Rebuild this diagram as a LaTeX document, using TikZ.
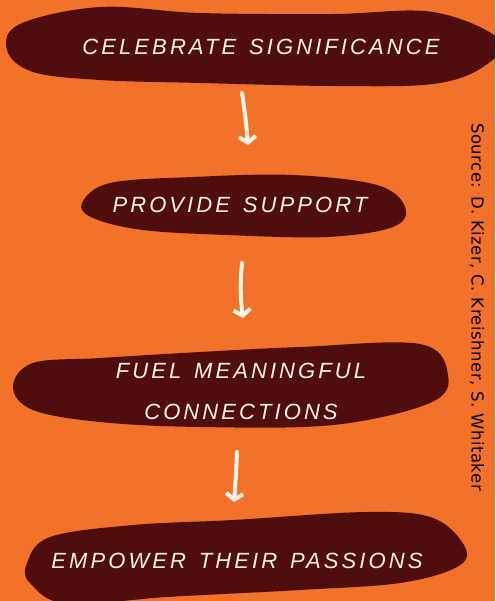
\documentclass[tikz,border=0pt]{standalone}
\usepackage{fontspec}
\usepackage{tikz}
\usetikzlibrary{arrows.meta}
\newfontfamily\stepfont[LetterSpace=14, WordSpace=1.4]{Liberation Sans}
\newfontfamily\sourcefont[LetterSpace=3]{DejaVu Sans}
\definecolor{bgorange}{RGB}{243,114,41}
\definecolor{blobred}{RGB}{80,13,14}
\definecolor{chalk}{RGB}{250,244,234}
\newcommand{\stepblob}[1] {\fill [blobred] plot [smooth cycle, tension=0.6] coordinates {#1};}
\newcommand{\steparrow}[3] {\draw [steplink] (#1) to[bend left=#3] (#2);}
\tikzset{
  steptext/.style={text=chalk, font=\stepfont\itshape\fontsize{22}{41}\selectfont, align=center, inner sep=0pt},
  steplink/.style={chalk, line width=4pt, line cap=round, -{Straight Barb[length=6pt, width=17pt, line width=4pt]}}
}
\begin{document}
\begin{tikzpicture}[x=1pt, y=-1pt]
\useasboundingbox (0,0) rectangle (495,601);
\fill [bgorange] (0,0) rectangle (495,601);
\begin{scope}
\clip (0,0) rectangle (495,601);
% blobs
\stepblob{(7,50) (20,24) (100,7) (200,13) (333,14) (433,12) (500,40) (483,67) (433,84) (333,86) (200,83) (100,80) (33,72)}
\stepblob{(82,203) (110,183) (193,177) (293,175) (377,185) (405,207) (393,227) (327,237) (227,235) (143,230) (93,218)}
\stepblob{(13,387) (33,363) (100,358) (200,352) (300,347) (420,344) (448,375) (430,403) (333,425) (200,427) (100,422) (33,410)}
\stepblob{(27,563) (50,537) (133,525) (233,520) (367,512) (433,518) (465,547) (457,567) (400,583) (300,590) (167,597) (67,604) (30,583)}
\end{scope}
% labels
\node at (261,55) (celebrate) [steptext, anchor=base] {CELEBRATE SIGNIFICANCE};
\node at (240,213) (support) [steptext, anchor=base] {PROVIDE SUPPORT};
\node at (241,391) (connections) [steptext] {FUEL MEANINGFUL\\CONNECTIONS};
\node at (237,568) (passions) [steptext, anchor=base] {EMPOWER THEIR PASSIONS};
% arrows
\coordinate (a1) at (242,93);
\coordinate (b1) at (248,145);
\coordinate (a2) at (242,263);
\coordinate (b2) at (243,318);
\coordinate (a3) at (237,452);
\coordinate (b3) at (234,502);
\steparrow{a1}{b1}{2}
\steparrow{a2}{b2}{-6}
\steparrow{a3}{b3}{1}
% source
\node at (477,307) (source) [rotate=-90, font=\sourcefont\fontsize{16.5}{18}\selectfont, inner sep=0pt] {Source: D. Kizer, C. Kreishner, S. Whitaker};
\end{tikzpicture}
\end{document}
